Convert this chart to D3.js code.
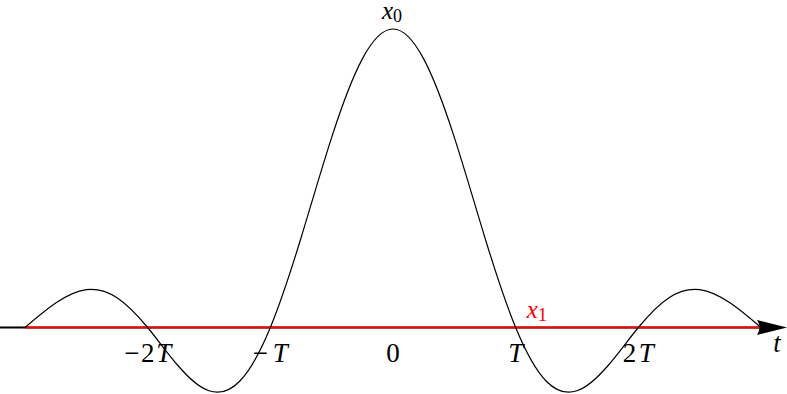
<!DOCTYPE html>
<html><head><meta charset="utf-8">
<script src="https://cdn.jsdelivr.net/npm/d3@7"></script>
<style>html,body{margin:0;padding:0;background:#fff;}svg{display:block;}
text{font-family:"Liberation Serif","DejaVu Serif",serif;}</style>
</head><body><svg id="c" width="787" height="394"></svg>
<script>
// t in units of T, value relative to x0
const tValues = [-3,-2.75,-2.5,-2.25,-2,-1.75,-1.5,-1.25,-1,-0.75,-0.5,-0.25,0,0.25,0.5,0.75,1,1.25,1.5,1.75,2,2.25,2.5,2.75,3];
const yValues = [0,0.082,0.127,0.100,0,-0.129,-0.212,-0.180,0,0.300,0.637,0.900,1,0.900,0.637,0.300,0,-0.180,-0.212,-0.129,0,0.100,0.127,0.082,0];
const tickPos = [-2,-1,0,1,2];
const tickPre = ["−2","−","0","","2"];
const tickVar = ["T","T","","T","T"];
const x1Level = 0;

const svg = d3.select("#c");
const x = d3.scaleLinear().domain([-3,3]).range([25,761]);
const y = d3.scaleLinear().domain([0,1]).range([327.5,29]);

// black axis
svg.append("line").attr("x1",0).attr("x2",760).attr("y1",y(0)).attr("y2",y(0))
  .attr("stroke","#000").attr("stroke-width",2);
// red x1 line
svg.append("line").attr("x1",x(-3)).attr("x2",760).attr("y1",y(x1Level)).attr("y2",y(x1Level))
  .attr("stroke","#ff0000").attr("stroke-width",2);

// curve
const pts = tValues.map((t,i)=>[t,yValues[i]]);
svg.append("path").datum(pts)
  .attr("d",d3.line().x(d=>x(d[0])).y(d=>y(d[1])).curve(d3.curveNatural))
  .attr("fill","none").attr("stroke","#000").attr("stroke-width",1.2);

// arrow head
const ay = y(0);
svg.append("path")
  .attr("d",`M787,${ay} L757,${ay-7.5} Q762,${ay} 757,${ay+7.5} Z`)
  .attr("fill","#000");

// tick labels
const labelLen = {"-2":47,"-1":35,"2":31};
const g = svg.append("g").style("font-size","27px");
tickPos.forEach((p,i)=>{
  const tx = g.append("text").attr("x",x(p)).attr("y",362).attr("text-anchor","middle");
  if (labelLen[String(p)]) tx.attr("textLength",labelLen[String(p)]).attr("lengthAdjust","spacing");
  if (tickPre[i]) tx.append("tspan").text(tickPre[i]);
  if (tickVar[i]) tx.append("tspan").style("font-style","italic").text(tickVar[i]);
});
// t label
g.append("text").attr("x",777).attr("y",352).attr("text-anchor","middle").style("font-style","italic").text("t");
// x0 label
const l0 = g.append("text").attr("x",x(0)-1).attr("y",19).attr("text-anchor","middle").style("font-size","25px");
l0.append("tspan").style("font-style","italic").text("x");
l0.append("tspan").style("font-size","18px").attr("dy",3).text("0");
// x1 label
const l1 = g.append("text").attr("x",537).attr("y",318).attr("text-anchor","middle").attr("fill","#ff0000").style("font-size","25px");
l1.append("tspan").style("font-style","italic").text("x");
l1.append("tspan").style("font-size","19px").attr("dy",3).text("1");
</script></body></html>
